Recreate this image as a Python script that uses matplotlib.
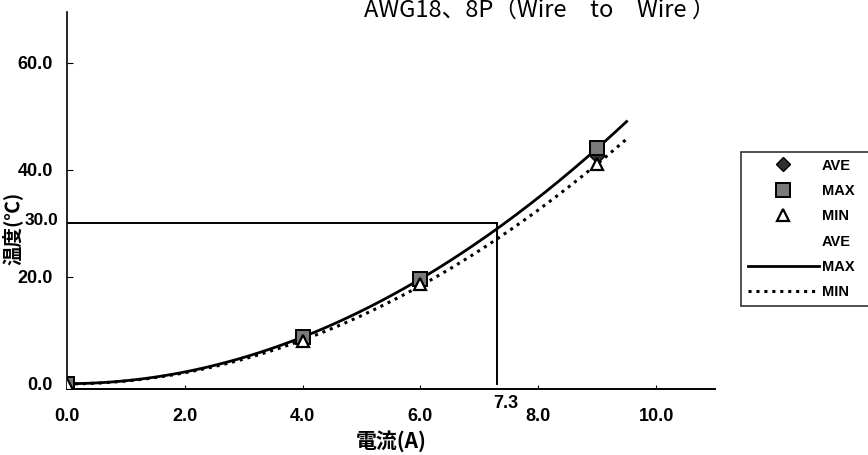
import numpy as np
import matplotlib
matplotlib.use("Agg")
import matplotlib.pyplot as plt

# Measured temperature rise vs. current
current = [0.0, 4.0, 6.0, 9.0]
temp_ave = [0.0, 8.3, 19.1, 42.5]
temp_max = [0.0, 8.7, 19.6, 44.0]
temp_min = [0.0, 7.9, 18.6, 41.0]

x_ticks = [0.0, 2.0, 4.0, 6.0, 8.0, 10.0]
y_ticks = [0.0, 20.0, 40.0, 60.0]

# Rating reference: 30 degC rise reached at 7.3 A
ref_temp = 30.0
ref_current = 7.3
fit_end = 9.5

title = "AWG18、8P（Wire　to　Wire ）"
xlabel = "電流(A)"
ylabel = "温度(℃)"
series_names = ["AVE", "MAX", "MIN", "AVE", "MAX", "MIN"]

tick_font = ["Liberation Sans", "DejaVu Sans"]
cjk_font = ["Noto Sans CJK JP", "DejaVu Sans"]

fig = plt.figure(figsize=(8.68, 4.55), dpi=100)
ax = fig.add_axes([0.0772, 0.145, 0.7465, 0.8286])

# Quadratic trend lines through the measured points
xs = np.linspace(0.0, fit_end, 200)
fits = {}
for name, ys in (("AVE", temp_ave), ("MAX", temp_max), ("MIN", temp_min)):
    coef = np.polyfit(current, ys, 2)
    fits[name] = np.polyval(coef, xs)

line_ave, = ax.plot(xs, fits["AVE"], linestyle="None", color="black")
line_max, = ax.plot(xs, fits["MAX"], color="black", lw=2.0)
line_min, = ax.plot(xs, fits["MIN"], color="black", lw=2.2, linestyle=(0, (1, 1.6)))

# Reference lines
ax.plot([0.0, ref_current], [ref_temp, ref_temp], color="black", lw=1.4)
ax.plot([ref_current, ref_current], [ref_temp, 0.0], color="black", lw=1.4)

pt_ave, = ax.plot(current, temp_ave, linestyle="None", marker="D", markersize=7,
                  markerfacecolor="#303030", markeredgecolor="black", zorder=4)
pt_max, = ax.plot(current, temp_max, linestyle="None", marker="s", markersize=10,
                  markerfacecolor="#7a7a7a", markeredgecolor="black", markeredgewidth=1.4, zorder=5)
pt_min, = ax.plot(current, temp_min, linestyle="None", marker="^", markersize=9,
                  markerfacecolor="white", markeredgecolor="black", markeredgewidth=1.6, zorder=6)

ax.set_xlim(0.0, 11.0)
ax.set_ylim(-1.0, 69.5)
ax.set_xticks(x_ticks)
ax.set_yticks(y_ticks)
ax.set_xticklabels([f"{v:.1f}" for v in x_ticks])
ax.set_yticklabels([f"{v:.1f}" for v in y_ticks])
for lab in ax.get_xticklabels() + ax.get_yticklabels():
    lab.set_family(tick_font)
    lab.set_fontweight("bold")
    lab.set_fontsize(13)
ax.tick_params(axis="x", direction="in", length=3, pad=14)
ax.tick_params(axis="y", direction="in", length=4, pad=10)

ax.spines["top"].set_visible(False)
ax.spines["right"].set_visible(False)
ax.spines["left"].set_linewidth(1.2)
ax.spines["bottom"].set_linewidth(1.4)

# Reference value labels
ax.text(-0.014, ref_temp + 0.6, f"{ref_temp:.1f}", transform=ax.get_yaxis_transform(),
        ha="right", va="center", family=tick_font, fontweight="bold", fontsize=12.5)
ax.text(ref_current + 0.15, -2.2, f"{ref_current:.1f}", ha="center", va="top",
        family=tick_font, fontweight="bold", fontsize=13)

ax.set_xlabel(xlabel, family=cjk_font, fontweight="bold", fontsize=15, labelpad=3)
ax.set_ylabel(ylabel, family=cjk_font, fontweight="bold", fontsize=14, labelpad=0)
ax.yaxis.set_label_coords(-0.069, 0.425)

fig.text(540 / 868, 1 - 17 / 455, title, ha="center", va="baseline",
         family=cjk_font, fontsize=17)

# Legend box runs past the right edge of the figure
handles = [pt_ave, pt_max, pt_min, line_ave, line_max, line_min]
leg = fig.legend(handles, series_names, loc="upper left", mode="expand",
                 bbox_to_anchor=(741 / 868, 1 - 152 / 455 - 0.5, 0.2, 0.5),
                 bbox_transform=fig.transFigure,
                 borderaxespad=0.0, frameon=True, fancybox=False, shadow=False,
                 handlelength=4.9, handletextpad=0.2, labelspacing=0.78,
                 borderpad=0.45, prop={"family": tick_font, "weight": "bold", "size": 10.5})
leg.get_frame().set_edgecolor("black")
leg.get_frame().set_linewidth(1.2)

fig.savefig("out.png", dpi=100)
